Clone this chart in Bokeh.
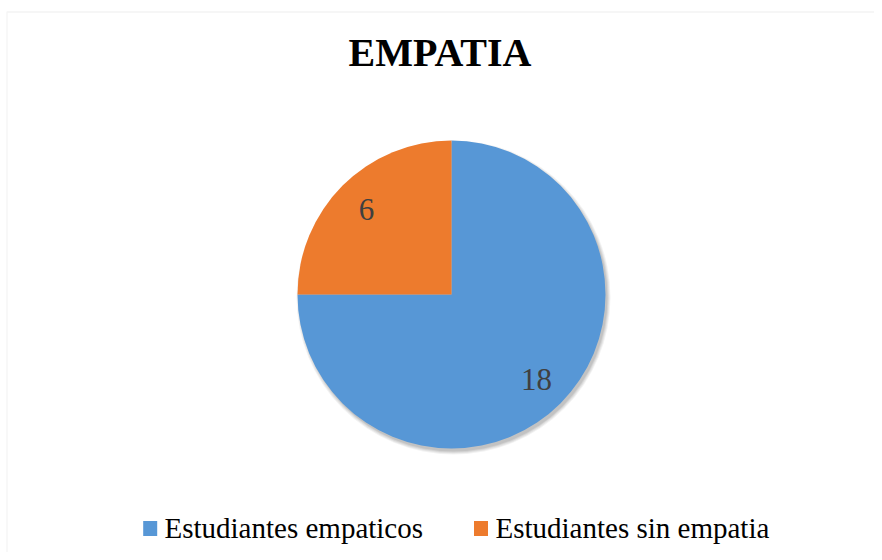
import numpy as np
from bokeh.plotting import figure
from bokeh.models import Range1d, Label, BoxAnnotation, ColumnDataSource
from bokeh.core.properties import value
from bokeh.embed import file_html
from bokeh.resources import INLINE

# ---- data ----
title_text = "EMPATIA"
categories = ["Estudiantes empaticos", "Estudiantes sin empatia"]
counts = [18, 6]
colors = ["#5797d6", "#ed7b2d"]

W, H = 874, 552
p = figure(width=W, height=H, output_backend="svg", toolbar_location=None,
           x_range=Range1d(0, W), y_range=Range1d(0, H),
           min_border=0, min_border_left=0, min_border_right=0,
           min_border_top=0, min_border_bottom=0)
p.axis.visible = False
p.grid.visible = False
p.outline_line_color = None
p.background_fill_color = "white"
p.border_fill_color = "white"

def sy(y):  # pixel row from top -> data y
    return H - y

SERIF = "Liberation Serif"

# chart border (only left/top visible in the reference)
p.add_layout(BoxAnnotation(left=6.5, right=1000, top=sy(11.5), bottom=-100,
                           fill_color=None, line_color="#d9d9d9", line_width=1.3))

# pie geometry
cx, cy, R = 451, sy(294), 154
vals = np.array(counts, dtype=float)
frac = vals / vals.sum()
cum = np.cumsum(frac)
start = np.pi / 2 - 2 * np.pi * np.concatenate([[0], cum[:-1]])
end = np.pi / 2 - 2 * np.pi * cum
mid = (start + end) / 2

# soft shadow
for k, a in enumerate([0.05, 0.06, 0.07, 0.08]):
    p.circle(x=cx + 2, y=cy - 3, radius=R + 3 - k, fill_color="#000000",
             fill_alpha=a, line_color=None)

src = ColumnDataSource(dict(x=[cx] * len(counts), y=[cy] * len(counts),
                            start=start, end=end, color=colors, cat=categories))
p.wedge(x="x", y="y", radius=R, start_angle="start", end_angle="end",
        direction="clock", fill_color="color", line_color=None, source=src)

# value labels
lr = 0.78 * R
lab = ColumnDataSource(dict(x=cx + lr * np.cos(mid), y=cy + lr * np.sin(mid),
                            t=[str(c) for c in counts]))
p.text(x="x", y="y", text="t", source=lab, text_font=value(SERIF),
       text_font_size="31px", text_color="#404040", text_align="center",
       text_baseline="middle")

# title
p.add_layout(Label(x=439.5, y=sy(52), text=title_text, text_font=SERIF,
                   text_font_style="bold", text_font_size="40px", text_color="#000000",
                   text_align="center", text_baseline="middle"))

# legend (drawn manually)
leg_sq_x = [149.7, 480.5]
leg_txt_x = [164, 495]
leg = ColumnDataSource(dict(sx=leg_sq_x, sy=[sy(528)] * 2, tx=leg_txt_x,
                            ty=[sy(527)] * 2, color=colors, cat=categories))
p.rect(x="sx", y="sy", width=14, height=15, fill_color="color", line_color=None, source=leg)
p.text(x="tx", y="ty", text="cat", source=leg, text_font=value(SERIF),
       text_font_size="29px", text_color="#000000", text_align="left",
       text_baseline="middle")

open("out.html", "w").write(file_html(p, INLINE))
